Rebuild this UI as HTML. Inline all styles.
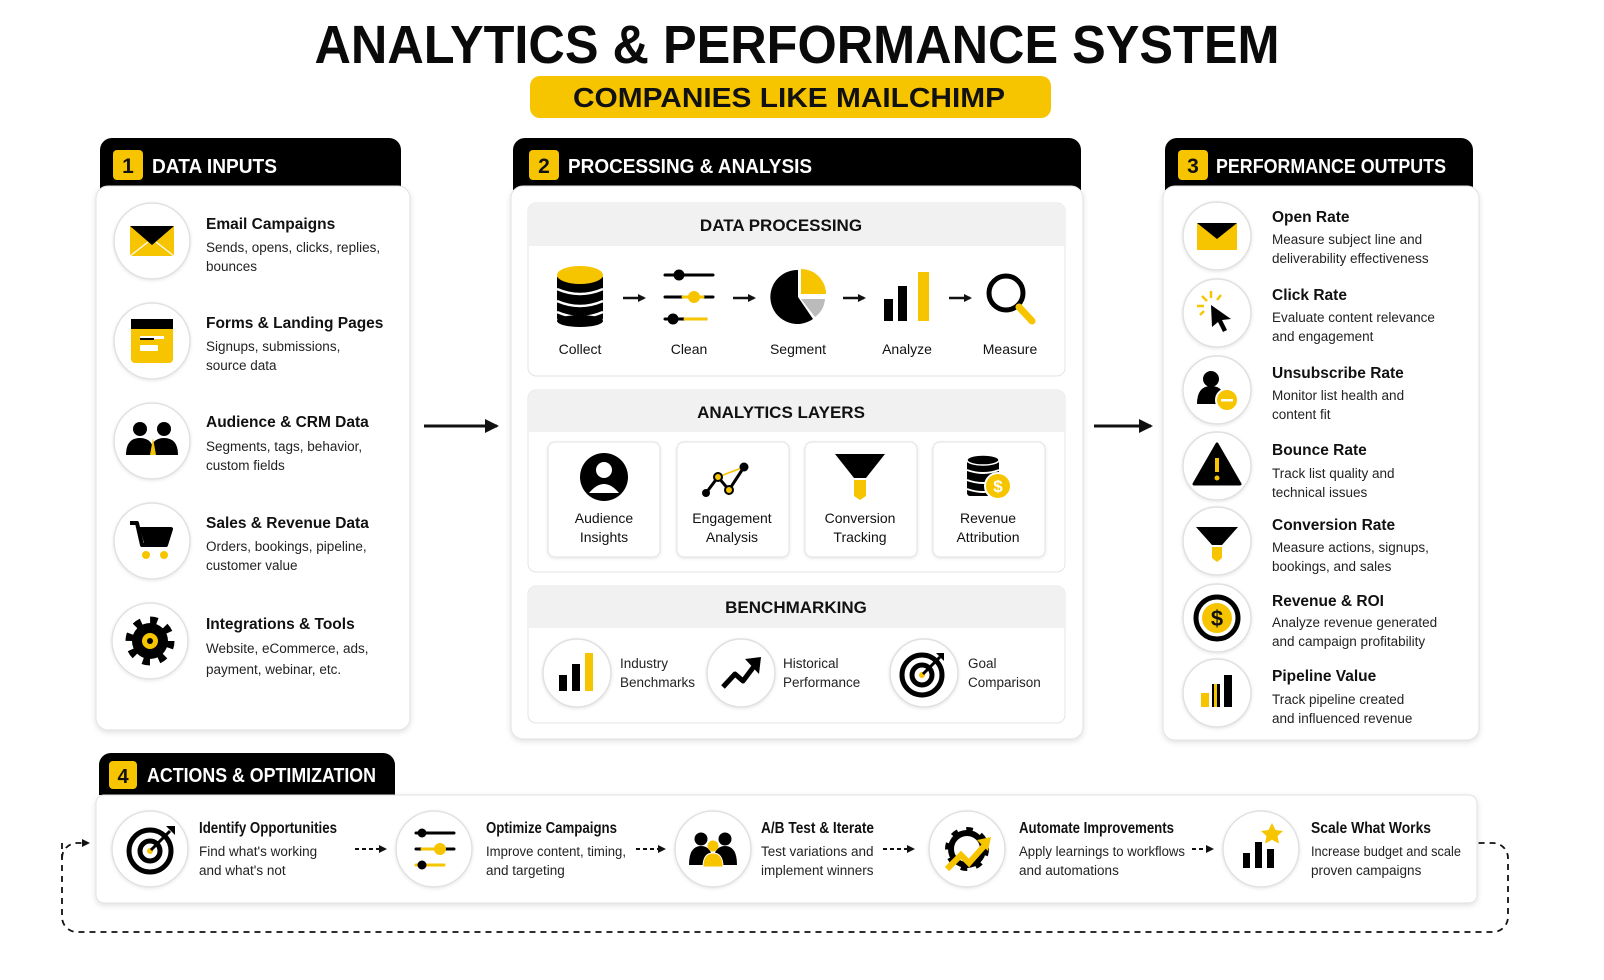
<!DOCTYPE html>
<html><head><meta charset="utf-8"><style>
html,body{margin:0;padding:0;background:#fff;overflow:hidden}
svg{display:block}
text{font-family:"Liberation Sans",sans-serif;fill:#111}
.t{font-weight:bold;font-size:15.5px}
.d{font-size:13.5px;fill:#222}
.h{font-weight:bold;font-size:20px;fill:#fff}
.sh{font-weight:bold;font-size:17px;text-anchor:middle}
.lb{font-size:14px;text-anchor:middle;fill:#111}
.bl{font-size:13.5px;fill:#222}
</style></head><body>
<svg width="1604" height="980" viewBox="0 0 1604 980" xmlns="http://www.w3.org/2000/svg">
<defs>
<filter id="s" x="-10%" y="-10%" width="120%" height="130%"><feDropShadow dx="0" dy="2" stdDeviation="3" flood-color="#000" flood-opacity="0.12"/></filter>
<filter id="cs" x="-20%" y="-20%" width="140%" height="140%"><feDropShadow dx="0" dy="1" stdDeviation="1.5" flood-color="#000" flood-opacity="0.1"/></filter>
<marker id="ah" markerWidth="8" markerHeight="8" refX="6" refY="4" orient="auto" markerUnits="userSpaceOnUse"><path d="M0,0 L8,4 L0,8 Z" fill="#111"/></marker>
<marker id="ab" markerWidth="14" markerHeight="14" refX="12" refY="7" orient="auto" markerUnits="userSpaceOnUse"><path d="M0,0 L14,7 L0,14 Z" fill="#111"/></marker>
</defs>
<rect width="1604" height="980" fill="#fff"/>

<!-- Title -->
<text x="797" y="63" text-anchor="middle" font-weight="bold" font-size="54" textLength="965" lengthAdjust="spacingAndGlyphs" style="fill:#0a0a0a">ANALYTICS &amp; PERFORMANCE SYSTEM</text>
<rect x="530" y="76" width="521" height="42" rx="10" fill="#F7C500"/>
<text x="789" y="107" text-anchor="middle" font-weight="bold" font-size="28" textLength="432" lengthAdjust="spacingAndGlyphs" style="fill:#111">COMPANIES LIKE MAILCHIMP</text>

<!-- Panel 1 -->
<path d="M100,190 V150 a12,12 0 0 1 12,-12 H389 a12,12 0 0 1 12,12 V190 Z" fill="#000"/>
<rect x="96" y="186" width="314" height="544" rx="12" fill="#fff" stroke="#e2e2e2" filter="url(#s)"/>
<rect x="113" y="150" width="30" height="30" rx="4" fill="#F7C500"/>
<text x="128" y="173" text-anchor="middle" font-weight="bold" font-size="21">1</text>
<text x="152" y="173" class="h" textLength="125" lengthAdjust="spacingAndGlyphs">DATA INPUTS</text>

<g fill="#fff" stroke="#e0e0e0" stroke-width="1.5" filter="url(#cs)">
<circle cx="152" cy="241" r="38"/><circle cx="152" cy="341" r="38"/><circle cx="152" cy="441" r="38"/><circle cx="152" cy="541" r="38"/><circle cx="150" cy="641" r="38"/>
</g>
<g transform="translate(152,241)"><rect x="-22" y="-15" width="44" height="30" fill="#F7C500"/><path d="M-22,-15 L22,-15 L0,4 Z" fill="#000"/><path d="M-22,15 L-4,1 M22,15 L4,1" stroke="#fff" stroke-width="1.2"/></g>
<g transform="translate(152,341)"><rect x="-21" y="-22" width="42" height="44" rx="4" fill="#F7C500"/><rect x="-21" y="-22" width="42" height="10" fill="#000"/><rect x="-12" y="-5" width="24" height="3" fill="#fff"/><rect x="-12" y="-3" width="14" height="2" fill="#000"/><rect x="-12" y="4" width="18" height="6" rx="1" fill="#fff"/></g>
<g transform="translate(152,441)"><circle cx="-12" cy="-12" r="7" fill="#000"/><circle cx="12" cy="-12" r="7" fill="#000"/><path d="M-26,14 q0,-17 14,-17 q14,0 14,17 Z" fill="#000"/><path d="M-2,14 q0,-17 14,-17 q14,0 14,17 Z" fill="#000"/><path d="M1,-3 l3,17 h-6 Z" fill="#F7C500"/></g>
<g transform="translate(152,541)"><path d="M-22,-18 h7 l5,22 h24 l5,-16 h-32" fill="none" stroke="#000" stroke-width="4" stroke-linejoin="round"/><path d="M-12,-12 h30 l-4,14 h-22 Z" fill="#000"/><circle cx="-6" cy="14" r="4" fill="#F7C500"/><circle cx="12" cy="14" r="4" fill="#F7C500"/></g>
<g transform="translate(150,641)"><circle r="20" fill="none" stroke="#000" stroke-width="9" stroke-dasharray="7 8.7"/><circle r="18" fill="#000"/><circle r="8" fill="#F7C500"/><circle r="3" fill="#000"/></g>

<text x="206" y="229" class="t">Email Campaigns</text><text x="206" y="252" class="d">Sends, opens, clicks, replies,</text><text x="206" y="271" class="d">bounces</text>
<text x="206" y="328" class="t">Forms &amp; Landing Pages</text><text x="206" y="351" class="d">Signups, submissions,</text><text x="206" y="370" class="d">source data</text>
<text x="206" y="427" class="t">Audience &amp; CRM Data</text><text x="206" y="451" class="d">Segments, tags, behavior,</text><text x="206" y="470" class="d">custom fields</text>
<text x="206" y="528" class="t">Sales &amp; Revenue Data</text><text x="206" y="551" class="d">Orders, bookings, pipeline,</text><text x="206" y="570" class="d">customer value</text>
<text x="206" y="629" class="t">Integrations &amp; Tools</text><text x="206" y="653" class="d">Website, eCommerce, ads,</text><text x="206" y="674" class="d">payment, webinar, etc.</text>

<line x1="424" y1="426" x2="497" y2="426" stroke="#111" stroke-width="3" marker-end="url(#ab)"/>
<line x1="1094" y1="426" x2="1151" y2="426" stroke="#111" stroke-width="3" marker-end="url(#ab)"/>

<!-- Panel 2 -->
<path d="M513,190 V150 a12,12 0 0 1 12,-12 H1069 a12,12 0 0 1 12,12 V190 Z" fill="#000"/>
<rect x="511" y="186" width="572" height="553" rx="12" fill="#fff" stroke="#e2e2e2" filter="url(#s)"/>
<rect x="529" y="150" width="30" height="30" rx="4" fill="#F7C500"/>
<text x="544" y="173" text-anchor="middle" font-weight="bold" font-size="21">2</text>
<text x="568" y="173" class="h" textLength="244" lengthAdjust="spacingAndGlyphs">PROCESSING &amp; ANALYSIS</text>

<rect x="528" y="203" width="537" height="173" rx="8" fill="#fff" stroke="#e4e4e4"/>
<path d="M528,246 V211 a8,8 0 0 1 8,-8 H1057 a8,8 0 0 1 8,8 V246 Z" fill="#f1f1f1"/>
<text x="781" y="231" class="sh">DATA PROCESSING</text>
<g transform="translate(580,297)"><rect x="-23" y="-22" width="46" height="46" fill="#000" rx="3"/><g fill="none" stroke="#fff" stroke-width="2.5"><path d="M-23,-8 q23,10 46,0"/><path d="M-23,4 q23,10 46,0"/><path d="M-23,15 q23,10 46,0"/></g><ellipse cx="0" cy="-22" rx="23" ry="9" fill="#F7C500"/><ellipse cx="0" cy="24" rx="23" ry="6" fill="#000"/></g>
<g transform="translate(689,297)" stroke-linecap="round"><line x1="-24" y1="-22" x2="24" y2="-22" stroke="#000" stroke-width="3"/><circle cx="-10" cy="-22" r="5.5" fill="#000"/><line x1="-24" y1="0" x2="24" y2="0" stroke="#000" stroke-width="3"/><line x1="-6" y1="0" x2="14" y2="0" stroke="#F7C500" stroke-width="3"/><circle cx="5" cy="0" r="6" fill="#F7C500"/><line x1="-24" y1="22" x2="17" y2="22" stroke="#000" stroke-width="3"/><line x1="-4" y1="22" x2="17" y2="22" stroke="#F7C500" stroke-width="3"/><circle cx="-16" cy="22" r="5.5" fill="#000"/></g>
<g transform="translate(798,297)"><path d="M0,0 L0,-27 A27,27 0 1 0 15,22 Z" fill="#000"/><path d="M3,-3 L3,-28 A25,25 0 0 1 28,-3 Z" fill="#F7C500"/><path d="M3,2 L27,2 A25,25 0 0 1 17,20 Z" fill="#bbb"/></g>
<g transform="translate(907,297)"><rect x="-23" y="2" width="9" height="22" fill="#000"/><rect x="-9" y="-11" width="9" height="35" fill="#000"/><rect x="11" y="-25" width="11" height="49" fill="#F7C500"/></g>
<g transform="translate(1010,297)"><circle cx="-4" cy="-4" r="17" fill="none" stroke="#000" stroke-width="5"/><line x1="9" y1="10" x2="22" y2="24" stroke="#F7C500" stroke-width="7" stroke-linecap="round"/></g>
<g stroke="#111" stroke-width="2.5" marker-end="url(#ah)"><line x1="623" y1="298" x2="644" y2="298"/><line x1="733" y1="298" x2="754" y2="298"/><line x1="843" y1="298" x2="864" y2="298"/><line x1="949" y1="298" x2="970" y2="298"/></g>
<text x="580" y="354" class="lb">Collect</text><text x="689" y="354" class="lb">Clean</text><text x="798" y="354" class="lb">Segment</text><text x="907" y="354" class="lb">Analyze</text><text x="1010" y="354" class="lb">Measure</text>

<rect x="528" y="390" width="537" height="182" rx="8" fill="#fff" stroke="#e4e4e4"/>
<path d="M528,432 V398 a8,8 0 0 1 8,-8 H1057 a8,8 0 0 1 8,8 V432 Z" fill="#f1f1f1"/>
<text x="781" y="418" class="sh">ANALYTICS LAYERS</text>
<g fill="#fff" stroke="#e2e2e2" filter="url(#cs)"><rect x="548" y="442" width="112" height="115" rx="7"/><rect x="677" y="442" width="112" height="115" rx="7"/><rect x="805" y="442" width="112" height="115" rx="7"/><rect x="933" y="442" width="112" height="115" rx="7"/></g>
<g transform="translate(604,477)"><circle r="24" fill="#000"/><circle cx="0" cy="-7" r="8" fill="#fff"/><path d="M-15,16 q15,-18 30,0 Z" fill="#fff"/></g>
<g transform="translate(732,480)"><path d="M-26,13 L-14,-3 L-3,10 L12,-13" fill="none" stroke="#000" stroke-width="3"/><line x1="-14" y1="-3" x2="12" y2="-13" stroke="#F7C500" stroke-width="1.5"/><circle cx="-26" cy="13" r="4" fill="#000"/><circle cx="-14" cy="-3" r="4" fill="#F7C500" stroke="#000" stroke-width="2"/><circle cx="-3" cy="10" r="4" fill="#F7C500" stroke="#000" stroke-width="2"/><circle cx="12" cy="-13" r="4.5" fill="#000"/></g>
<g transform="translate(860,478)"><path d="M-25,-24 H25 L6,0 H-6 Z" fill="#000"/><path d="M-6,2 H6 V18 L0,22 L-6,18 Z" fill="#F7C500"/></g>
<g transform="translate(984,478)"><rect x="-17" y="-18" width="32" height="36" rx="3" fill="#000"/><g fill="none" stroke="#fff" stroke-width="2"><path d="M-17,-8 q16,6 32,0"/><path d="M-17,2 q16,6 32,0"/><path d="M-17,11 q16,6 32,0"/></g><ellipse cx="-1" cy="-18" rx="16" ry="5" fill="#000" stroke="#fff" stroke-width="1.5"/><circle cx="14" cy="8" r="13" fill="#F7C500" stroke="#fff" stroke-width="2"/><text x="14" y="14" text-anchor="middle" font-weight="bold" font-size="17" style="fill:#fff">$</text></g>
<text x="604" y="523" class="lb">Audience</text><text x="604" y="542" class="lb">Insights</text>
<text x="732" y="523" class="lb">Engagement</text><text x="732" y="542" class="lb">Analysis</text>
<text x="860" y="523" class="lb">Conversion</text><text x="860" y="542" class="lb">Tracking</text>
<text x="988" y="523" class="lb">Revenue</text><text x="988" y="542" class="lb">Attribution</text>

<rect x="528" y="586" width="537" height="137" rx="8" fill="#fff" stroke="#e4e4e4"/>
<path d="M528,628 V594 a8,8 0 0 1 8,-8 H1057 a8,8 0 0 1 8,8 V628 Z" fill="#f1f1f1"/>
<text x="796" y="613" class="sh">BENCHMARKING</text>
<g fill="#fff" stroke="#e0e0e0" stroke-width="1.5" filter="url(#cs)"><circle cx="577" cy="673" r="34"/><circle cx="741" cy="673" r="34"/><circle cx="924" cy="673" r="34"/></g>
<g transform="translate(577,673)"><rect x="-18" y="2" width="8" height="16" fill="#000"/><rect x="-5" y="-9" width="8" height="27" fill="#000"/><rect x="8" y="-20" width="8" height="38" fill="#F7C500"/></g>
<g transform="translate(741,673)"><path d="M-18,14 L-6,1 L2,8 L14,-8" fill="none" stroke="#000" stroke-width="5" stroke-linejoin="round"/><path d="M4,-14 L20,-16 L18,1 Z" fill="#000"/></g>
<g transform="translate(922,675)"><circle r="20" fill="none" stroke="#000" stroke-width="5"/><circle r="10" fill="none" stroke="#000" stroke-width="5"/><circle r="3" fill="#F7C500"/><line x1="1" y1="-1" x2="18" y2="-18" stroke="#000" stroke-width="3"/><path d="M14,-22 L22,-22 L22,-14 Z" fill="#000"/></g>
<text x="620" y="668" class="bl">Industry</text><text x="620" y="687" class="bl">Benchmarks</text>
<text x="783" y="668" class="bl">Historical</text><text x="783" y="687" class="bl">Performance</text>
<text x="968" y="668" class="bl">Goal</text><text x="968" y="687" class="bl">Comparison</text>

<!-- Panel 3 -->
<path d="M1165,190 V150 a12,12 0 0 1 12,-12 H1461 a12,12 0 0 1 12,12 V190 Z" fill="#000"/>
<rect x="1163" y="186" width="316" height="554" rx="12" fill="#fff" stroke="#e2e2e2" filter="url(#s)"/>
<rect x="1178" y="150" width="30" height="30" rx="4" fill="#F7C500"/>
<text x="1193" y="173" text-anchor="middle" font-weight="bold" font-size="21">3</text>
<text x="1216" y="173" class="h" textLength="230" lengthAdjust="spacingAndGlyphs">PERFORMANCE OUTPUTS</text>
<g fill="#fff" stroke="#e0e0e0" stroke-width="1.5" filter="url(#cs)">
<circle cx="1217" cy="236" r="34"/><circle cx="1217" cy="313" r="34"/><circle cx="1217" cy="390" r="34"/><circle cx="1217" cy="466" r="34"/><circle cx="1217" cy="541" r="34"/><circle cx="1217" cy="618" r="34"/><circle cx="1217" cy="693" r="34"/>
</g>
<g transform="translate(1217,236)"><rect x="-20" y="-13" width="40" height="27" fill="#F7C500"/><path d="M-20,-13 L20,-13 L0,3 Z" fill="#000"/></g>
<g transform="translate(1217,313)"><path d="M-6,-8 L14,6 L5,7 L10,17 L6,19 L1,9 L-5,14 Z" fill="#000"/><g stroke="#F7C500" stroke-width="2.5"><line x1="-10" y1="-12" x2="-15" y2="-17"/><line x1="-6" y1="-15" x2="-6" y2="-22"/><line x1="-13" y1="-7" x2="-20" y2="-7"/><line x1="0" y1="-13" x2="4" y2="-18"/><line x1="-13" y1="-2" x2="-17" y2="2"/></g></g>
<g transform="translate(1217,390)"><circle cx="-6" cy="-11" r="8" fill="#000"/><path d="M-20,14 q0,-18 14,-18 q10,0 13,9 v9 Z" fill="#000"/><circle cx="10" cy="10" r="11" fill="#F7C500" stroke="#fff" stroke-width="2"/><rect x="4" y="9" width="12" height="2.5" fill="#fff"/></g>
<g transform="translate(1217,466)"><path d="M0,-22 L23,18 H-23 Z" fill="#000" stroke="#000" stroke-width="3" stroke-linejoin="round"/><rect x="-2" y="-8" width="4" height="14" fill="#F7C500"/><circle cy="12" r="2.5" fill="#F7C500"/></g>
<g transform="translate(1217,541)"><path d="M-21,-14 H21 L5,4 H-5 Z" fill="#000"/><path d="M-5,6 H5 V17 L0,21 L-5,17 Z" fill="#F7C500"/></g>
<g transform="translate(1217,618)"><circle r="21" fill="#fff" stroke="#000" stroke-width="5"/><circle r="15" fill="#F7C500"/><text y="8" text-anchor="middle" font-weight="bold" font-size="22">$</text></g>
<g transform="translate(1217,693)"><rect x="-16" y="0" width="8" height="14" fill="#F7C500"/><rect x="-5" y="-9" width="8" height="23" fill="#000"/><rect x="-3" y="-9" width="3" height="23" fill="#F7C500"/><rect x="7" y="-18" width="8" height="32" fill="#000"/></g>

<text x="1272" y="222" class="t">Open Rate</text><text x="1272" y="244" class="d">Measure subject line and</text><text x="1272" y="263" class="d">deliverability effectiveness</text>
<text x="1272" y="300" class="t">Click Rate</text><text x="1272" y="322" class="d">Evaluate content relevance</text><text x="1272" y="341" class="d">and engagement</text>
<text x="1272" y="378" class="t">Unsubscribe Rate</text><text x="1272" y="400" class="d">Monitor list health and</text><text x="1272" y="419" class="d">content fit</text>
<text x="1272" y="455" class="t">Bounce Rate</text><text x="1272" y="478" class="d">Track list quality and</text><text x="1272" y="497" class="d">technical issues</text>
<text x="1272" y="530" class="t">Conversion Rate</text><text x="1272" y="552" class="d">Measure actions, signups,</text><text x="1272" y="571" class="d">bookings, and sales</text>
<text x="1272" y="606" class="t">Revenue &amp; ROI</text><text x="1272" y="627" class="d">Analyze revenue generated</text><text x="1272" y="646" class="d">and campaign profitability</text>
<text x="1272" y="681" class="t">Pipeline Value</text><text x="1272" y="704" class="d">Track pipeline created</text><text x="1272" y="723" class="d">and influenced revenue</text>

<!-- Panel 4 -->
<path d="M62,843 V917 a15,15 0 0 0 15,15 H1493 a15,15 0 0 0 15,-15 V858 a15,15 0 0 0 -15,-15 H1478" fill="none" stroke="#111" stroke-width="1.8" stroke-dasharray="6 5"/>
<path d="M62,858 a15,15 0 0 1 15,-15 H88" fill="none" stroke="#111" stroke-width="1.8" stroke-dasharray="6 5" marker-end="url(#ah)"/>
<path d="M99,795 V765 a12,12 0 0 1 12,-12 H383 a12,12 0 0 1 12,12 V795 Z" fill="#000"/>
<rect x="96" y="795" width="1381" height="108" rx="8" fill="#fff" stroke="#e2e2e2" filter="url(#s)"/>
<rect x="109" y="761" width="28" height="28" rx="4" fill="#F7C500"/>
<text x="123" y="783" text-anchor="middle" font-weight="bold" font-size="20">4</text>
<text x="147" y="782" class="h" font-size="19" textLength="229" lengthAdjust="spacingAndGlyphs">ACTIONS &amp; OPTIMIZATION</text>
<g fill="#fff" stroke="#e0e0e0" stroke-width="1.5" filter="url(#cs)">
<circle cx="150" cy="849" r="38"/><circle cx="434" cy="849" r="38"/><circle cx="713" cy="849" r="38"/><circle cx="967" cy="849" r="38"/><circle cx="1261" cy="849" r="38"/>
</g>
<g transform="translate(150,851)"><circle r="21" fill="none" stroke="#000" stroke-width="5"/><circle r="10" fill="none" stroke="#000" stroke-width="5"/><circle r="3" fill="#F7C500"/><line x1="1" y1="-1" x2="20" y2="-20" stroke="#000" stroke-width="3"/><path d="M16,-25 L25,-25 L25,-16 Z" fill="#000"/></g>
<g transform="translate(434,849)" stroke-linecap="round"><line x1="-18" y1="-16" x2="20" y2="-16" stroke="#000" stroke-width="3"/><circle cx="-12" cy="-16" r="4.5" fill="#000"/><line x1="-18" y1="0" x2="20" y2="0" stroke="#000" stroke-width="3"/><line x1="-12" y1="0" x2="6" y2="0" stroke="#F7C500" stroke-width="3"/><circle cx="6" cy="0" r="6" fill="#F7C500"/><line x1="-18" y1="16" x2="10" y2="16" stroke="#F7C500" stroke-width="3"/><circle cx="-12" cy="16" r="4.5" fill="#000"/></g>
<g transform="translate(713,851)"><circle cx="-12" cy="-12" r="6.5" fill="#000"/><circle cx="12" cy="-12" r="6.5" fill="#000"/><path d="M-24,14 q0,-19 12,-19 q12,0 12,19 Z" fill="#000"/><path d="M0,14 q0,-19 12,-19 q12,0 12,19 Z" fill="#000"/><circle cx="0" cy="-5" r="5.5" fill="#F7C500"/><path d="M-10,16 q0,-14 10,-14 q10,0 10,14 Z" fill="#F7C500" stroke="#fff" stroke-width="1"/></g>
<g transform="translate(967,849)"><circle r="18" fill="none" stroke="#000" stroke-width="8" stroke-dasharray="6 8"/><circle r="16" fill="none" stroke="#000" stroke-width="6"/><path d="M-20,20 L-6,6 L2,14 L18,-4" fill="none" stroke="#F7C500" stroke-width="6"/><path d="M10,-9 L24,-12 L21,2 Z" fill="#F7C500"/></g>
<g transform="translate(1261,849)"><rect x="-18" y="4" width="7" height="15" fill="#000"/><rect x="-6" y="-7" width="7" height="26" fill="#000"/><rect x="6" y="0" width="7" height="19" fill="#000"/><path d="M11,-26 l3.5,7 7.5,1 -5.5,5 1.5,7.5 -7,-3.7 -7,3.7 1.5,-7.5 -5.5,-5 7.5,-1 Z" fill="#F7C500"/></g>
<g stroke="#111" stroke-width="2" stroke-dasharray="4 3" marker-end="url(#ah)"><line x1="355" y1="849" x2="385" y2="849"/><line x1="636" y1="849" x2="664" y2="849"/><line x1="883" y1="849" x2="913" y2="849"/><line x1="1192" y1="849" x2="1212" y2="849"/></g>
<text x="199" y="833" class="t" font-size="14" textLength="138" lengthAdjust="spacingAndGlyphs">Identify Opportunities</text><text x="199" y="856" class="d" font-size="13">Find what's working</text><text x="199" y="875" class="d" font-size="13">and what's not</text>
<text x="486" y="833" class="t" font-size="14" textLength="131" lengthAdjust="spacingAndGlyphs">Optimize Campaigns</text><text x="486" y="856" class="d" font-size="13" textLength="140" lengthAdjust="spacingAndGlyphs">Improve content, timing,</text><text x="486" y="875" class="d" font-size="13">and targeting</text>
<text x="761" y="833" class="t" font-size="14" textLength="113" lengthAdjust="spacingAndGlyphs">A/B Test &amp; Iterate</text><text x="761" y="856" class="d" font-size="13">Test variations and</text><text x="761" y="875" class="d" font-size="13">implement winners</text>
<text x="1019" y="833" class="t" font-size="14" textLength="155" lengthAdjust="spacingAndGlyphs">Automate Improvements</text><text x="1019" y="856" class="d" font-size="13" textLength="166" lengthAdjust="spacingAndGlyphs">Apply learnings to workflows</text><text x="1019" y="875" class="d" font-size="13">and automations</text>
<text x="1311" y="833" class="t" font-size="14" textLength="120" lengthAdjust="spacingAndGlyphs">Scale What Works</text><text x="1311" y="856" class="d" font-size="13" textLength="150" lengthAdjust="spacingAndGlyphs">Increase budget and scale</text><text x="1311" y="875" class="d" font-size="13">proven campaigns</text>
</svg>
</body></html>
